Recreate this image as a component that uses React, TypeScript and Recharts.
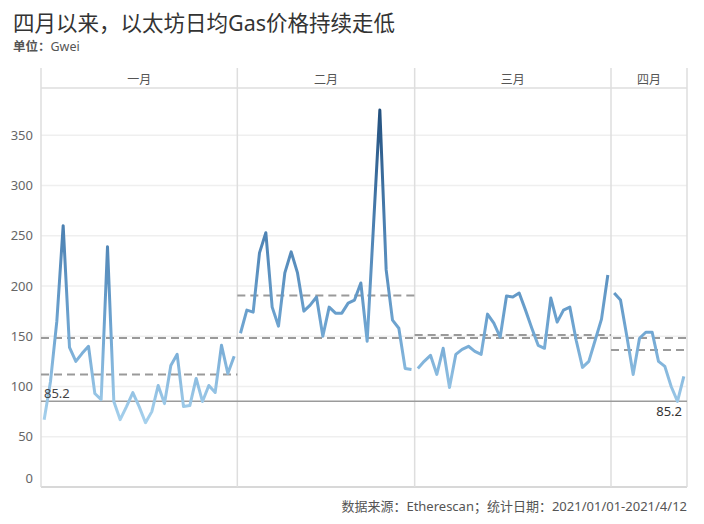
import React from "react";
import {
  LineChart,
  Line,
  XAxis,
  YAxis,
  CartesianGrid,
  ReferenceLine,
  ReferenceArea,
} from "recharts";

// ─── Data (Gwei, daily average gas price) ────────────────────────────────────

const MONTHS = ["一月", "二月", "三月", "四月"];
const KEYS = ["jan", "feb", "mar", "apr"];

const JAN = [
  67, 105, 165, 260, 139, 125, 133, 140, 93, 87, 239, 85, 67, 80, 94, 80,
  64, 75, 101, 83, 121, 132, 80, 81, 108, 85, 101, 94, 141, 113, 130,
];
const FEB = [
  153, 176, 174, 233, 253, 179, 160, 213, 234, 213, 175, 181, 189, 150,
  179, 173, 173, 183, 186, 203, 145, 260, 375, 216, 166, 158, 118, 117,
];
const MAR = [
  118, 125, 131, 112, 138, 99, 132, 137, 140, 135, 132, 172, 163, 149, 190,
  189, 193, 176, 158, 141, 138, 188, 164, 176, 179, 146, 119, 125, 146, 167,
  211,
];
const APR = [193, 186, 150, 112, 148, 154, 154, 125, 120, 100, 85.2, 110];

const Y_TICKS = [0, 50, 100, 150, 200, 250, 300, 350];

// ─── Derived table ───────────────────────────────────────────────────────────

const SERIES = [JAN, FEB, MAR, APR];
const mean = (a: number[]) => a.reduce((s, v) => s + v, 0) / a.length;

const chartData: Record<string, number>[] = [];
const bounds: [number, number][] = [];
let start = 0;
SERIES.forEach((vals, m) => {
  vals.forEach((v, d) => chartData.push({ i: start + d, [KEYS[m]]: v }));
  bounds.push([start - 0.5, start + vals.length - 0.5]);
  start += vals.length;
});
const X_MIN = -0.5;
const X_MAX = start - 0.5;
const monthAvg = SERIES.map(mean);
const overallAvg = mean(SERIES.flat());
// constant line: April's low
const aprLow = Math.min(...APR);

const Y_MAX = 397;
const HEADER_TOP = 417;

const FONT = '"Noto Sans", "Noto Sans CJK SC", sans-serif';
const GRID = "#dedede";
const DASH = "#9a9a9a";

function YTick(props: any) {
  const { x, y, payload } = props;
  const dy = payload.value === 0 ? -9 : 0;
  return (
    <text
      x={x}
      y={y + dy}
      dy="0.35em"
      textAnchor="end"
      fill="#666"
      fontSize={13}
      fontFamily={FONT}
    >
      {payload.value}
    </text>
  );
}

export default function App() {
  return (
    <div
      style={{
        position: "absolute",
        left: 0,
        top: 0,
        width: 704,
        height: 524,
        background: "#fff",
        fontFamily: FONT,
      }}
    >
      <div
        style={{
          position: "absolute",
          left: 13,
          top: 9,
          fontSize: 21.5,
          fontWeight: 400,
          color: "#333",
          whiteSpace: "nowrap",
          lineHeight: "28px",
        }}
      >
        四月以来，以太坊日均Gas价格持续走低
      </div>
      <div
        style={{
          position: "absolute",
          left: 13,
          top: 38,
          fontSize: 12.5,
          color: "#555",
          whiteSpace: "nowrap",
          lineHeight: "18px",
        }}
      >
        <b>单位：</b>Gwei
      </div>

      <div style={{ position: "absolute", left: 0, top: 0 }}>
        <LineChart
          width={704}
          height={524}
          data={chartData}
          margin={{ top: 88, right: 17, bottom: 37, left: 0 }}
        >
          <defs>
            <linearGradient
              id="gasGrad"
              gradientUnits="userSpaceOnUse"
              x1="0"
              y1="110"
              x2="0"
              y2="427"
            >
              <stop offset="0" stopColor="#23507e" />
              <stop offset="0.36" stopColor="#4b80b1" />
              <stop offset="0.7" stopColor="#70a6d2" />
              <stop offset="1" stopColor="#a9d3ee" />
            </linearGradient>
          </defs>
          <CartesianGrid vertical={false} stroke="#efefef" strokeWidth={1.5} />
          <XAxis type="number" dataKey="i" domain={[X_MIN, X_MAX]} hide />
          <YAxis
            type="number"
            domain={[0, Y_MAX]}
            ticks={Y_TICKS}
            width={41}
            tickSize={0}
            tickMargin={8}
            axisLine={false}
            tickLine={false}
            tick={<YTick />}
          />

          {/* month header labels */}
          {bounds.map(([a, b], m) => (
            <ReferenceArea
              key={MONTHS[m]}
              x1={a}
              x2={b}
              y1={0}
              y2={Y_MAX}
              fill="none"
              fillOpacity={0}
              stroke="none"
              label={{
                value: MONTHS[m],
                position: "top",
                offset: 4,
                fill: "#555",
                fontSize: 12,
                fontFamily: FONT,
              }}
            />
          ))}

          {/* header band bottom line and baseline */}
          <ReferenceLine y={Y_MAX} stroke="#e6e6e6" strokeWidth={2} />
          <ReferenceLine y={0} stroke="#cfcfcf" strokeWidth={1.5} />

          {/* pane separators */}
          {[X_MIN, ...bounds.map((b) => b[1])].map((x) => (
            <ReferenceLine
              key={x}
              ifOverflow="visible"
              segment={[
                { x, y: 0 },
                { x, y: HEADER_TOP },
              ]}
              stroke={GRID}
              strokeWidth={1.5}
            />
          ))}

          {/* monthly averages */}
          {bounds.map(([a, b], m) => (
            <ReferenceLine
              key={"avg" + m}
              segment={[
                { x: a, y: monthAvg[m] },
                { x: b, y: monthAvg[m] },
              ]}
              stroke={DASH}
              strokeWidth={2}
              strokeDasharray="8 5"
            />
          ))}
          <ReferenceLine
            y={overallAvg}
            stroke={DASH}
            strokeWidth={2}
            strokeDasharray="8 5"
          />

          {/* April low constant line */}
          <ReferenceLine
            y={aprLow}
            stroke="#9b9b9b"
            strokeWidth={1.5}
            label={{
              value: String(aprLow),
              position: "insideBottomLeft",
              offset: 3,
              fill: "#444",
              fontSize: 13,
              fontFamily: FONT,
            }}
          />
          <ReferenceLine
            y={aprLow}
            stroke="none"
            label={{
              value: String(aprLow),
              position: "insideTopRight",
              offset: 5,
              fill: "#333",
              fontSize: 13,
              fontFamily: FONT,
            }}
          />

          {KEYS.map((k) => (
            <Line
              key={k}
              type="linear"
              dataKey={k}
              stroke="url(#gasGrad)"
              strokeWidth={3}
              strokeLinejoin="round"
              dot={false}
              activeDot={false}
              isAnimationActive={false}
            />
          ))}
        </LineChart>
      </div>

      <div
        style={{
          position: "absolute",
          right: 17,
          top: 497,
          fontSize: 13,
          color: "#555",
          whiteSpace: "nowrap",
          lineHeight: "18px",
        }}
      >
        数据来源：Etherescan；统计日期：2021/01/01-2021/4/12
      </div>
    </div>
  );
}
